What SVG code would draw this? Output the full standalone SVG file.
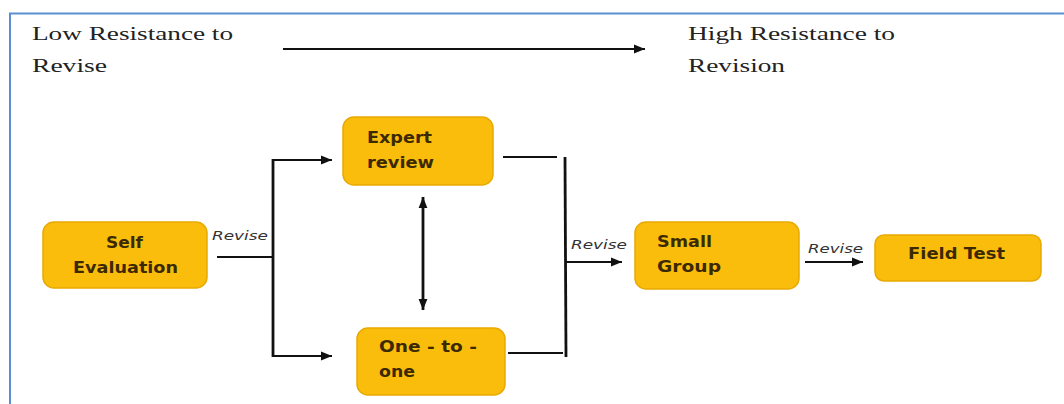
<svg xmlns="http://www.w3.org/2000/svg" width="1064" height="404" viewBox="0 0 1064 404">
<defs>
<marker id="ah" viewBox="0 0 10 10" refX="10" refY="5" markerWidth="11" markerHeight="11" markerUnits="userSpaceOnUse" orient="auto-start-reverse">
<path d="M0,1 L10,5 L0,9 Z" fill="#111"/>
</marker>
<style>
.frame{fill:none;stroke:#5b8fd0;stroke-width:2}
.hdr{font-family:"Liberation Serif","Times New Roman",serif;font-size:19px;fill:#222}
.box{fill:#fbbd0c;stroke:#e8a900;stroke-width:1.5}
.bt{font-family:"DejaVu Sans",Verdana,sans-serif;font-weight:bold;font-size:15px;fill:#3b2a00}
.rv{font-family:"DejaVu Sans",Verdana,sans-serif;font-style:italic;font-size:12px;fill:#333}
.ln{fill:none;stroke:#111;stroke-width:2.2}
.bus{fill:none;stroke:#111;stroke-width:2.8}
.ar{fill:none;stroke:#111;stroke-width:2.2;marker-end:url(#ah)}
</style>
</defs>
<rect width="1064" height="404" fill="#fff"/>
<polyline class="frame" points="10,404 10,13.5 1064,13.5"/>
<g id="header">
<text class="hdr" x="32" y="40" textLength="201" lengthAdjust="spacingAndGlyphs">Low Resistance to</text>
<text class="hdr" x="32" y="72" textLength="75" lengthAdjust="spacingAndGlyphs">Revise</text>
<text class="hdr" x="688" y="40" textLength="207" lengthAdjust="spacingAndGlyphs">High Resistance to</text>
<text class="hdr" x="688" y="72" textLength="97" lengthAdjust="spacingAndGlyphs">Revision</text>
</g>
<g id="connectors">
<line class="ar" x1="283" y1="49" x2="645" y2="49"/>
<line class="ln" x1="217" y1="257" x2="274" y2="257"/>
<line class="bus" x1="273" y1="159" x2="273" y2="357"/>
<line class="ar" x1="272" y1="160" x2="332" y2="160"/>
<line class="ar" x1="272" y1="356" x2="332" y2="356"/>
<line class="bus" x1="423" y1="197" x2="423" y2="310" marker-end="url(#ah)" marker-start="url(#ah)"/>
<line class="ln" x1="503" y1="157" x2="557" y2="157"/>
<line class="ln" x1="508" y1="353" x2="563" y2="353"/>
<line class="bus" x1="565" y1="157" x2="566" y2="357"/>
<line class="ar" x1="566" y1="262" x2="622" y2="262"/>
<line class="ar" x1="805" y1="262" x2="863" y2="262"/>
<text class="rv" x="212" y="240" textLength="56" lengthAdjust="spacingAndGlyphs">Revise</text>
<text class="rv" x="571" y="249" textLength="56" lengthAdjust="spacingAndGlyphs">Revise</text>
<text class="rv" x="808" y="253" textLength="55" lengthAdjust="spacingAndGlyphs">Revise</text>
</g>
<g id="self-evaluation">
<rect class="box" x="43" y="222" width="164" height="66" rx="11"/>
<text class="bt" x="106" y="248" textLength="37" lengthAdjust="spacingAndGlyphs">Self</text>
<text class="bt" x="73" y="273" textLength="105" lengthAdjust="spacingAndGlyphs">Evaluation</text>
</g>
<g id="expert-review">
<rect class="box" x="343" y="117" width="150" height="68" rx="11"/>
<text class="bt" x="367" y="143" textLength="65" lengthAdjust="spacingAndGlyphs">Expert</text>
<text class="bt" x="367" y="168" textLength="67" lengthAdjust="spacingAndGlyphs">review</text>
</g>
<g id="one-to-one">
<rect class="box" x="357" y="328" width="148" height="67" rx="11"/>
<text class="bt" x="379" y="352" textLength="98" lengthAdjust="spacingAndGlyphs">One - to -</text>
<text class="bt" x="379" y="377" textLength="36" lengthAdjust="spacingAndGlyphs">one</text>
</g>
<g id="small-group">
<rect class="box" x="635" y="222" width="164" height="67" rx="11"/>
<text class="bt" x="657" y="247" textLength="55" lengthAdjust="spacingAndGlyphs">Small</text>
<text class="bt" x="657" y="272" textLength="64" lengthAdjust="spacingAndGlyphs">Group</text>
</g>
<g id="field-test">
<rect class="box" x="875" y="235" width="166" height="46" rx="9"/>
<text class="bt" x="908" y="259" textLength="97" lengthAdjust="spacingAndGlyphs">Field Test</text>
</g>
</svg>
